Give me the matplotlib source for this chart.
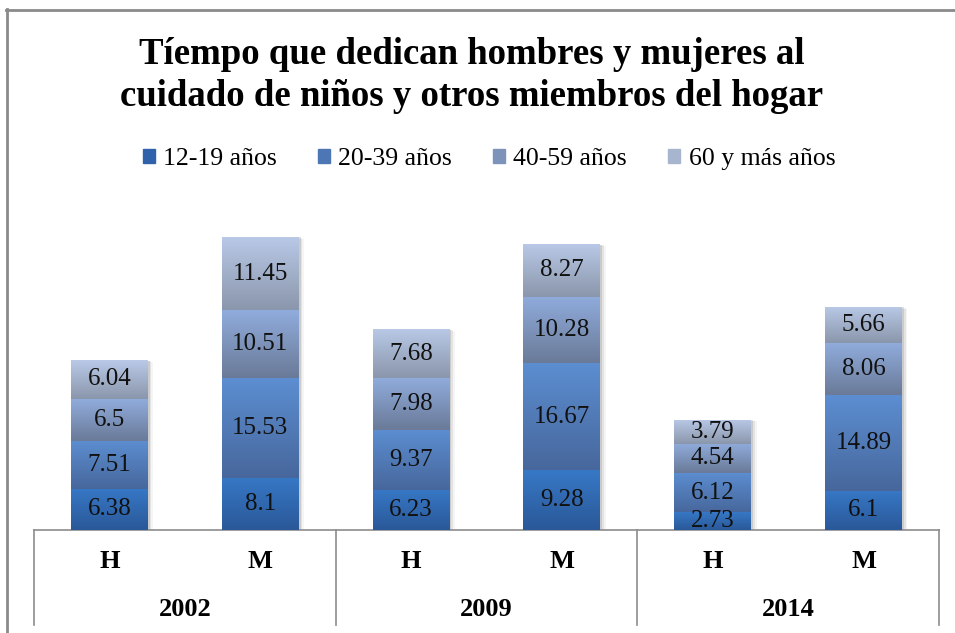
import matplotlib
matplotlib.use("Agg")
import matplotlib.pyplot as plt
import numpy as np
from matplotlib.colors import to_rgb, LinearSegmentedColormap
from matplotlib.lines import Line2D
from matplotlib.patches import Rectangle

years = ["2002", "2009", "2014"]
sexes = ["H", "M"]
series_names = ["12-19 años", "20-39 años", "40-59 años", "60 y más años"]
v_12_19 = [6.38, 8.1, 6.23, 9.28, 2.73, 6.1]
v_20_39 = [7.51, 15.53, 9.37, 16.67, 6.12, 14.89]
v_40_59 = [6.5, 10.51, 7.98, 10.28, 4.54, 8.06]
v_60 = [6.04, 11.45, 7.68, 8.27, 3.79, 5.66]
series_values = [v_12_19, v_20_39, v_40_59, v_60]

grad_top = ["#3778c6", "#5c8ed1", "#90acdc", "#b9c9e7"]
grad_bot = ["#2a5898", "#47679c", "#6a7a98", "#8a96ab"]
legend_colors = ["#2f62aa", "#4d76b5", "#7d93ba", "#a8b5cf"]

plt.rcParams["font.family"] = ["Liberation Serif", "DejaVu Serif"]

W, H = 955, 633
fig = plt.figure(figsize=(W / 100, H / 100), dpi=100)
fig.patch.set_facecolor("white")

ax_left, ax_right = 34, 939
ax_bottom_px, ax_top_px = 530, 208.5
ax = fig.add_axes([ax_left / W, (H - ax_bottom_px) / H,
                   (ax_right - ax_left) / W, (ax_bottom_px - ax_top_px) / H])
ax.set_xlim(-0.5, 5.5)
ax.set_ylim(0, 50)
for s in ["top", "right", "left"]:
    ax.spines[s].set_visible(False)
ax.spines["bottom"].set_color("#8c8c8c")
ax.spines["bottom"].set_linewidth(1.2)
ax.set_yticks([])
ax.set_xticks([])

x = np.arange(len(v_12_19))
bw = 0.51
totals = np.sum(np.array(series_values), axis=0)
# soft shadow behind bars
for xi, t in zip(x, totals):
    for k, a in enumerate([0.10, 0.07, 0.04]):
        ax.add_patch(Rectangle((xi - bw / 2 + 0.012 * (k + 1), 0), bw, t - 0.1 * (k + 1),
                               facecolor="black", alpha=a, linewidth=0, zorder=1))
bottom = np.zeros(len(x))
for i, vals in enumerate(series_values):
    vals = np.array(vals)
    mid = tuple((np.array(to_rgb(grad_top[i])) + np.array(to_rgb(grad_bot[i]))) / 2)
    bars = ax.bar(x, vals, bw, bottom=bottom, color=mid, label=series_names[i],
                  linewidth=0, zorder=2)
    cmap = LinearSegmentedColormap.from_list("g%d" % i, [grad_bot[i], grad_top[i]])
    grad = np.linspace(0, 1, 256).reshape(-1, 1)
    for b, v in zip(bars, vals):
        x0, y0 = b.get_x(), b.get_y()
        w, h = b.get_width(), b.get_height()
        im = ax.imshow(grad, cmap=cmap, origin="lower", aspect="auto",
                       extent=[x0, x0 + w, y0, y0 + h], zorder=3, interpolation="bilinear")
        im.set_clip_path(b)
        ax.text(x0 + w / 2, y0 + h / 2, ("%g" % v), ha="center", va="center",
                fontsize=18, color="#111111", zorder=5)
    bottom = bottom + vals
ax.set_xlim(-0.5, 5.5)
ax.set_ylim(0, 50)

# category labels
trans = ax.get_xaxis_transform()
ax_h_px = ax_bottom_px - ax_top_px
for i, xi in enumerate(x):
    ax.text(xi, -(562 - ax_bottom_px) / ax_h_px, sexes[i % 2], transform=trans,
            ha="center", va="center", fontsize=19, fontweight="bold")
for g, yr in enumerate(years):
    ax.text(2 * g + 0.5, -(609 - ax_bottom_px) / ax_h_px, yr, transform=trans,
            ha="center", va="center", fontsize=19, fontweight="bold")
for xd in [-0.5, 1.5, 3.5, 5.5]:
    ax.plot([xd, xd], [0, -(625 - ax_bottom_px) / ax_h_px], transform=trans,
            color="#8c8c8c", lw=1.2, clip_on=False)

# title
fig.text(472 / W, 1 - 55 / H, "Tíempo que dedican hombres y mujeres al",
         ha="center", va="center", fontsize=26.5, fontweight="bold")
fig.text(472 / W, 1 - 97 / H, "cuidado de niños y otros miembros del hogar",
         ha="center", va="center", fontsize=26.5, fontweight="bold")

# legend
handles = [Rectangle((0, 0), 1, 1, color=legend_colors[i]) for i in range(4)]
leg = fig.legend(handles, series_names, loc="center", bbox_to_anchor=(489 / W, 1 - 159 / H),
                 ncol=4, frameon=False, fontsize=18.5, handlelength=0.47, handleheight=0.47,
                 handletextpad=0.32, columnspacing=1.6, borderpad=0, borderaxespad=0)

# outer border
fig.add_artist(Line2D([6.5 / W, 6.5 / W], [0, 1 - 9 / H], transform=fig.transFigure,
                      color="#8a8a8a", lw=2))
fig.add_artist(Line2D([6 / W, 1], [1 - 9.5 / H, 1 - 9.5 / H], transform=fig.transFigure,
                      color="#8a8a8a", lw=2))

fig.savefig("out.png", dpi=100)
